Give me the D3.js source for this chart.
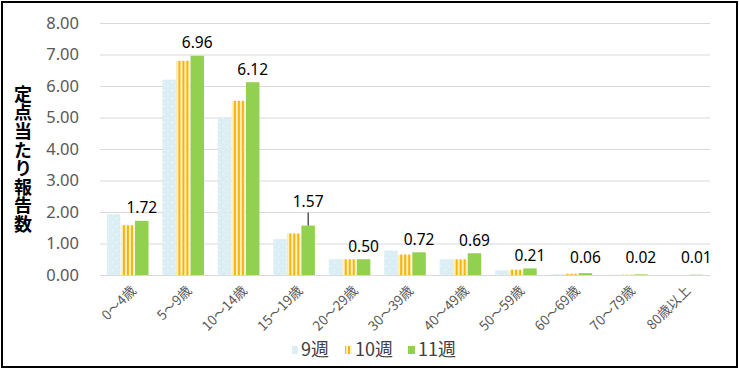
<!DOCTYPE html>
<html>
<head>
<meta charset="utf-8">
<script src="https://cdn.jsdelivr.net/npm/d3@7"></script>
<style>
  body { margin: 0; background: #fff; }
  svg text { font-family: "Noto Sans CJK JP", "Noto Sans", sans-serif; }
</style>
</head>
<body>
<div id="main"></div>
<script>
// age groups and weekly values
const ageGroups = ["0～4歳", "5～9歳", "10～14歳", "15～19歳", "20～29歳", "30～39歳",
                   "40～49歳", "50～59歳", "60～69歳", "70～79歳", "80歳以上"];
const seriesNames = ["9週", "10週", "11週"];
const week9 = [1.93, 6.20, 5.00, 1.14, 0.50, 0.78, 0.50, 0.15, 0.03, 0.01, 0.00];
const week10 = [1.58, 6.80, 5.53, 1.32, 0.50, 0.65, 0.50, 0.17, 0.04, 0.01, 0.00];
const week11 = [1.72, 6.96, 6.12, 1.57, 0.50, 0.72, 0.69, 0.21, 0.06, 0.02, 0.01];
const yTicks = [0, 1, 2, 3, 4, 5, 6, 7, 8];

const ctx = { WIDTH: 739, HEIGHT: 370 };
const numFont = "'Noto Sans', 'Open Sans', sans-serif";

function createViz() {
    const svg = d3.select("#main").append("svg")
        .attr("width", ctx.WIDTH)
        .attr("height", ctx.HEIGHT);

    // fill patterns
    const defs = svg.append("defs");
    const dots = defs.append("pattern")
        .attr("id", "dots")
        .attr("patternUnits", "userSpaceOnUse")
        .attr("width", 8).attr("height", 8);
    dots.append("rect").attr("width", 8).attr("height", 8).attr("fill", "#DAEEF3");
    dots.append("rect").attr("x", 1).attr("y", 2).attr("width", 1).attr("height", 1).attr("fill", "#fff");
    dots.append("rect").attr("x", 5).attr("y", 6).attr("width", 1).attr("height", 1).attr("fill", "#fff");

    const stripes = defs.append("pattern")
        .attr("id", "stripes")
        .attr("patternUnits", "userSpaceOnUse")
        .attr("width", 4).attr("height", 4);
    stripes.append("rect").attr("width", 4).attr("height", 4).attr("fill", "#FFF0C0");
    stripes.append("rect").attr("x", 0).attr("width", 2).attr("height", 4).attr("fill", "#F5B40F");

    const fills = ["url(#dots)", "url(#stripes)", "#92D050"];

    const left = 100, right = 710, top = 23, bottom = 275;

    const x0 = d3.scaleBand()
        .domain(ageGroups)
        .range([left, right])
        .paddingInner(0.25)
        .paddingOuter(0.125);
    const x1 = d3.scaleBand()
        .domain(seriesNames)
        .range([0, x0.bandwidth()])
        .paddingInner(0.04);
    const y = d3.scaleLinear().domain([0, 8]).range([bottom, top]);

    // gridlines
    svg.append("g").selectAll("line")
        .data(yTicks)
        .enter().append("line")
        .attr("x1", left).attr("x2", right)
        .attr("y1", d => y(d) + 0.5).attr("y2", d => y(d) + 0.5)
        .attr("stroke", "#D9D9D9")
        .attr("stroke-width", 1);

    // y axis labels
    const yAxis = d3.axisLeft(y).tickValues(yTicks).tickFormat(d3.format(".2f")).tickSize(0).tickPadding(0);
    const ya = svg.append("g").attr("transform", `translate(79,0)`).call(yAxis);
    ya.select(".domain").remove();
    ya.selectAll("text")
        .attr("font-size", 16.5)
        .attr("fill", "#595959")
        .style("font-family", numFont);

    // bars
    const series = [week9, week10, week11];
    const rows = ageGroups.map((g, i) => ({
        group: g,
        values: seriesNames.map((s, k) => ({ key: s, k: k, value: series[k][i] }))
    }));

    const groups = svg.append("g").selectAll("g")
        .data(rows)
        .enter().append("g")
        .attr("transform", d => `translate(${x0(d.group)},0)`);

    groups.selectAll("rect")
        .data(d => d.values)
        .enter().append("rect")
        .attr("x", d => x1(d.key))
        .attr("y", d => y(d.value))
        .attr("width", x1.bandwidth())
        .attr("height", d => bottom - y(d.value))
        .attr("fill", d => fills[d.k]);

    // data labels for week 11
    const labelLift = { 3: 11 };
    const labelY = (v, i) => Math.min(y(v) - 13, 258) - (labelLift[i] || 0);
    const lbl = svg.append("g");
    week11.forEach((v, i) => {
        const cx = x0(ageGroups[i]) + x1("11週") + x1.bandwidth() / 2;
        lbl.append("text")
            .attr("x", cx)
            .attr("y", labelY(v, i))
            .attr("dy", "0.35em")
            .attr("text-anchor", "middle")
            .attr("font-size", 15.5)
            .attr("fill", "#000")
            .style("font-family", numFont)
            .text(d3.format(".2f")(v));
        if (labelLift[i]) {
            lbl.append("line")
                .attr("x1", cx).attr("x2", cx)
                .attr("y1", labelY(v, i) + 11).attr("y2", y(v))
                .attr("stroke", "#000").attr("stroke-width", 1);
        }
    });

    // x labels rotated
    svg.append("g").selectAll("text")
        .data(ageGroups)
        .enter().append("text")
        .attr("transform", d => `translate(${x0(d) + x0.bandwidth() / 2 + 6},${bottom + 13}) rotate(-45)`)
        .attr("text-anchor", "end")
        .attr("dy", "0.35em")
        .attr("font-size", 13.5)
        .attr("fill", "#595959")
        .text(d => d);

    // y axis title, stacked vertically
    svg.append("text")
        .attr("x", 23)
        .attr("y", 85)
        .style("writing-mode", "vertical-rl")
        .style("letter-spacing", "0.6px")
        .attr("font-size", 18)
        .attr("font-weight", "bold")
        .attr("fill", "#000")
        .text("定点当たり報告数");

    // legend
    const legendItems = [
        { name: "9週", fill: fills[0], x: 292, w: 6 },
        { name: "10週", fill: fills[1], x: 345, w: 7 },
        { name: "11週", fill: fills[2], x: 408, w: 7 }
    ];
    const lg = svg.append("g");
    legendItems.forEach(it => {
        lg.append("rect")
            .attr("x", it.x).attr("y", 346)
            .attr("width", it.w).attr("height", 8)
            .attr("fill", it.fill);
        lg.append("text")
            .attr("x", it.x + it.w + 3).attr("y", 350)
            .attr("dy", "0.35em")
            .attr("font-size", 18)
            .attr("fill", "#404040")
            .text(it.name);
    });

    // outer border
    svg.append("rect")
        .attr("x", 2).attr("y", 2)
        .attr("width", ctx.WIDTH - 4).attr("height", ctx.HEIGHT - 5)
        .attr("fill", "none")
        .attr("stroke", "#000")
        .attr("stroke-width", 2);
}

createViz();
</script>
</body>
</html>
